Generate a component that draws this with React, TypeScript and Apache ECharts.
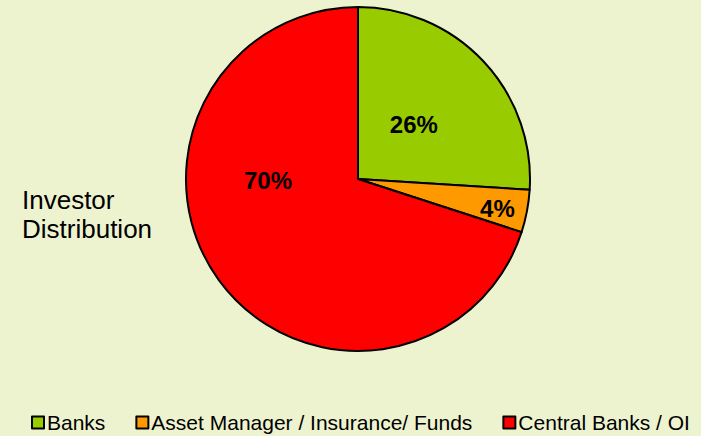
import React, { useEffect, useRef } from "react";
import * as echarts from "echarts";

const categories = ["Banks", "Asset Manager / Insurance/ Funds", "Central Banks / OI"];
const values = [26, 4, 70];
const colors = ["#99CC00", "#FF9900", "#FF0000"];
const labelOffsets: [number, number][] = [[-9, 6], [52, 13], [-18, -51]];
const titleLines = ["Investor", "Distribution"];

const FONT = '"Liberation Sans", Arial, Helvetica, sans-serif';

export default function App() {
  const ref = useRef<HTMLDivElement>(null);
  useEffect(() => {
    if (!ref.current) return;
    const chart = echarts.init(ref.current, undefined, { renderer: "svg" });
    chart.setOption({
      animation: false,
      backgroundColor: "#EEF3CF",
      title: {
        text: titleLines.join("\n"),
        left: 22,
        top: 185,
        padding: 0,
        textStyle: { fontFamily: FONT, fontSize: 26, fontWeight: "normal", color: "#000", lineHeight: 29 },
      },
      legend: {
        left: 31,
        top: 412,
        padding: 0,
        itemWidth: 12,
        itemHeight: 12,
        itemGap: 30,
        icon: "rect",
        itemStyle: { borderColor: "#000", borderWidth: 2 },
        textStyle: { fontFamily: FONT, fontSize: 21, color: "#000", padding: [0, 0, 0, -2] },
        data: categories,
      },
      series: [
        {
          type: "pie",
          center: [358, 179],
          radius: 172,
          startAngle: 90,
          clockwise: true,
          avoidLabelOverlap: false,
          itemStyle: { borderColor: "#000", borderWidth: 2 },
          label: {
            show: true,
            position: "inside",
            formatter: "{c}%",
            fontFamily: FONT,
            fontSize: 24,
            fontWeight: "bold",
            color: "#000",
          },
          labelLine: { show: false },
          emphasis: { disabled: true },
          data: categories.map((name, i) => ({
            name,
            value: values[i],
            itemStyle: { color: colors[i] },
            label: { offset: labelOffsets[i] },
          })),
        },
      ],
    });
    return () => chart.dispose();
  }, []);
  return (
    <div
      ref={ref}
      style={{ position: "fixed", left: 0, top: 0, width: 701, height: 436 }}
    />
  );
}
